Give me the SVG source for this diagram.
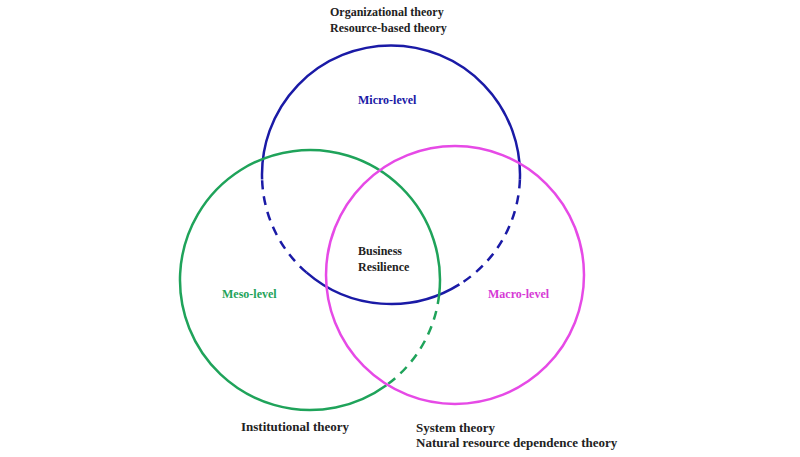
<svg xmlns="http://www.w3.org/2000/svg" width="800" height="457" viewBox="0 0 800 457">
<style>
text{font-family:"Liberation Serif","Times New Roman",serif;font-size:12px;font-weight:bold;fill:#222}
.l{font-size:13px}
.c{fill:none;stroke-width:2.5}
.b{stroke:#1a1aa6}.g{stroke:#1fa35a}.m{stroke:#e64ae6}
.d{stroke-dasharray:9,7}
</style>
<rect width="800" height="457" fill="#fff"/>
<g id="connectors"></g>
<g id="micro">
<path class="c b" d="M262.1,179.5 A129,129 0 1 1 519.9,179.5"/>
<path class="c b" d="M459.4,284.4 A129,129 0 0 1 306.4,272.4"/>
<path class="c b d" d="M519.9,179.5 A129,129 0 0 1 459.4,284.4"/>
<path class="c b d" d="M306.4,272.4 A129,129 0 0 1 262.1,179.5"/>
<text x="358" y="104" style="fill:#1a1aa6">Micro-level</text>
</g>
<g id="meso">
<path class="c g" d="M386.4,385.2 A130,130 0 1 1 439.1,295.2"/>
<path class="c g d" d="M439.1,295.2 A130,130 0 0 1 386.4,385.2"/>
<text x="222" y="298" style="fill:#1fa35a">Meso-level</text>
</g>
<g id="macro">
<circle class="c m" cx="455" cy="275" r="129"/>
<text x="488" y="298" style="fill:#d63ad6">Macro-level</text>
</g>
<g id="center">
<text x="358" y="255">Business</text>
<text x="358" y="271">Resilience</text>
</g>
<g id="labels">
<text x="330" y="16">Organizational theory</text>
<text x="330" y="32">Resource-based theory</text>
<text class="l" x="241" y="431">Institutional  theory</text>
<text class="l" x="416" y="432">System  theory</text>
<text class="l" x="416" y="447">Natural resource dependence theory</text>
</g>
</svg>
